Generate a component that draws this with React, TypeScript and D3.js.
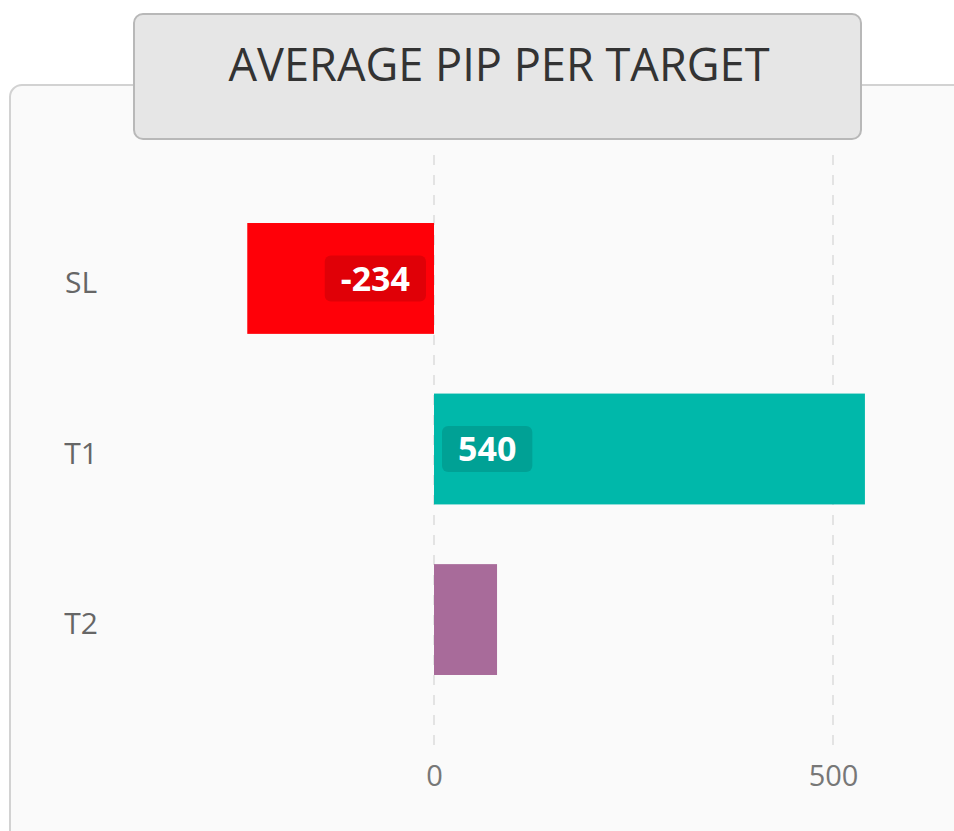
import React, { useEffect, useRef } from 'react';
import * as d3 from 'd3';

const categories = ['SL', 'T1', 'T2'];
const values = [-234, 540, 79];
const barColors = ['#ff0008', '#00b8aa', '#a86b9a'];
const tickValues = [0, 500];
const title = 'AVERAGE PIP PER TARGET';

const W = 954;
const H = 831;
const FONT = '"Open Sans", "Noto Sans", sans-serif';

const App: React.FC = () => {
  const svgRef = useRef<SVGSVGElement>(null);

  useEffect(() => {
    if (!svgRef.current) return;
    const svg = d3.select(svgRef.current);
    svg.selectAll('*').remove();

    // outer card
    svg.append('rect')
      .attr('x', 10).attr('y', 85)
      .attr('width', W + 20).attr('height', H)
      .attr('rx', 12)
      .attr('fill', '#fafafa')
      .attr('stroke', '#d2d2d2')
      .attr('stroke-width', 2);

    const x = d3.scaleLinear().domain([-500, 650]).range([35, 952.7]);
    const y = d3.scaleBand<string>()
      .domain(categories)
      .range([193, 705])
      .paddingInner(0.35)
      .paddingOuter(0.176);

    // grid
    svg.append('g')
      .selectAll('line')
      .data(tickValues)
      .enter()
      .append('line')
      .attr('x1', d => x(d)).attr('x2', d => x(d))
      .attr('y1', 155).attr('y2', 753)
      .attr('stroke', '#e3e3e3')
      .attr('stroke-width', 2)
      .attr('stroke-dasharray', '10,10');

    // x axis labels
    const xAxis = d3.axisBottom(x).tickValues(tickValues).tickSize(0).tickPadding(0);
    const xg = svg.append('g')
      .attr('transform', 'translate(0, 765)')
      .call(xAxis);
    xg.select('.domain').remove();
    xg.selectAll('text')
      .attr('dy', '0.71em')
      .attr('font-family', FONT)
      .attr('font-size', 29)
      .attr('fill', '#777');

    // category labels
    svg.append('g')
      .selectAll('text')
      .data(categories)
      .enter()
      .append('text')
      .attr('x', 81)
      .attr('y', d => (y(d) || 0) + y.bandwidth() / 2 + 4)
      .attr('dy', '0.36em')
      .attr('text-anchor', 'middle')
      .attr('font-family', FONT)
      .attr('font-size', 30)
      .attr('fill', '#666')
      .text(d => d);

    // bars
    const rows = categories.map((c, i) => ({ cat: c, value: values[i], color: barColors[i] }));
    svg.append('g')
      .selectAll('rect')
      .data(rows)
      .enter()
      .append('rect')
      .attr('x', d => x(Math.min(0, d.value)))
      .attr('y', d => y(d.cat) || 0)
      .attr('width', d => Math.abs(x(d.value) - x(0)))
      .attr('height', y.bandwidth())
      .attr('fill', d => d.color);

    // data labels (inside base), skipped when the bar is too short
    const labelRows = rows.filter(d => Math.abs(x(d.value) - x(0)) > 120);
    const lg = svg.append('g');
    labelRows.forEach(d => {
      const cy = (y(d.cat) || 0) + y.bandwidth() / 2;
      const g = lg.append('g');
      const box = g.append('rect');
      const t = g.append('text')
        .attr('font-family', FONT)
        .attr('font-weight', 700)
        .attr('font-size', 34)
        .attr('fill', '#fff')
        .attr('text-anchor', 'middle')
        .attr('dy', '0.36em')
        .text(String(d.value));
      const tw = (t.node() as SVGTextElement).getComputedTextLength();
      const bw = tw + 32;
      const bx = d.value < 0 ? x(0) - 8 - bw : x(0) + 8;
      box.attr('x', bx).attr('y', cy - 23)
        .attr('width', bw).attr('height', 46)
        .attr('rx', 6)
        .attr('fill', 'rgba(0,0,0,0.12)');
      t.attr('x', bx + bw / 2).attr('y', cy);
    });

    // title box
    svg.append('rect')
      .attr('x', 134).attr('y', 14)
      .attr('width', 727).attr('height', 125)
      .attr('rx', 9)
      .attr('fill', '#e6e6e6')
      .attr('stroke', '#b8b8b8')
      .attr('stroke-width', 2);
    svg.append('text')
      .attr('x', 499).attr('y', 81)
      .attr('text-anchor', 'middle')
      .attr('font-family', FONT)
      .attr('font-size', 46)
      .attr('fill', '#333')
      .attr('textLength', 541)
      .attr('lengthAdjust', 'spacingAndGlyphs')
      .text(title);
  }, []);

  return (
    <svg
      ref={svgRef}
      width={W}
      height={H}
      style={{ position: 'absolute', left: 0, top: 0, display: 'block', background: '#fff' }}
    />
  );
};

export default App;
